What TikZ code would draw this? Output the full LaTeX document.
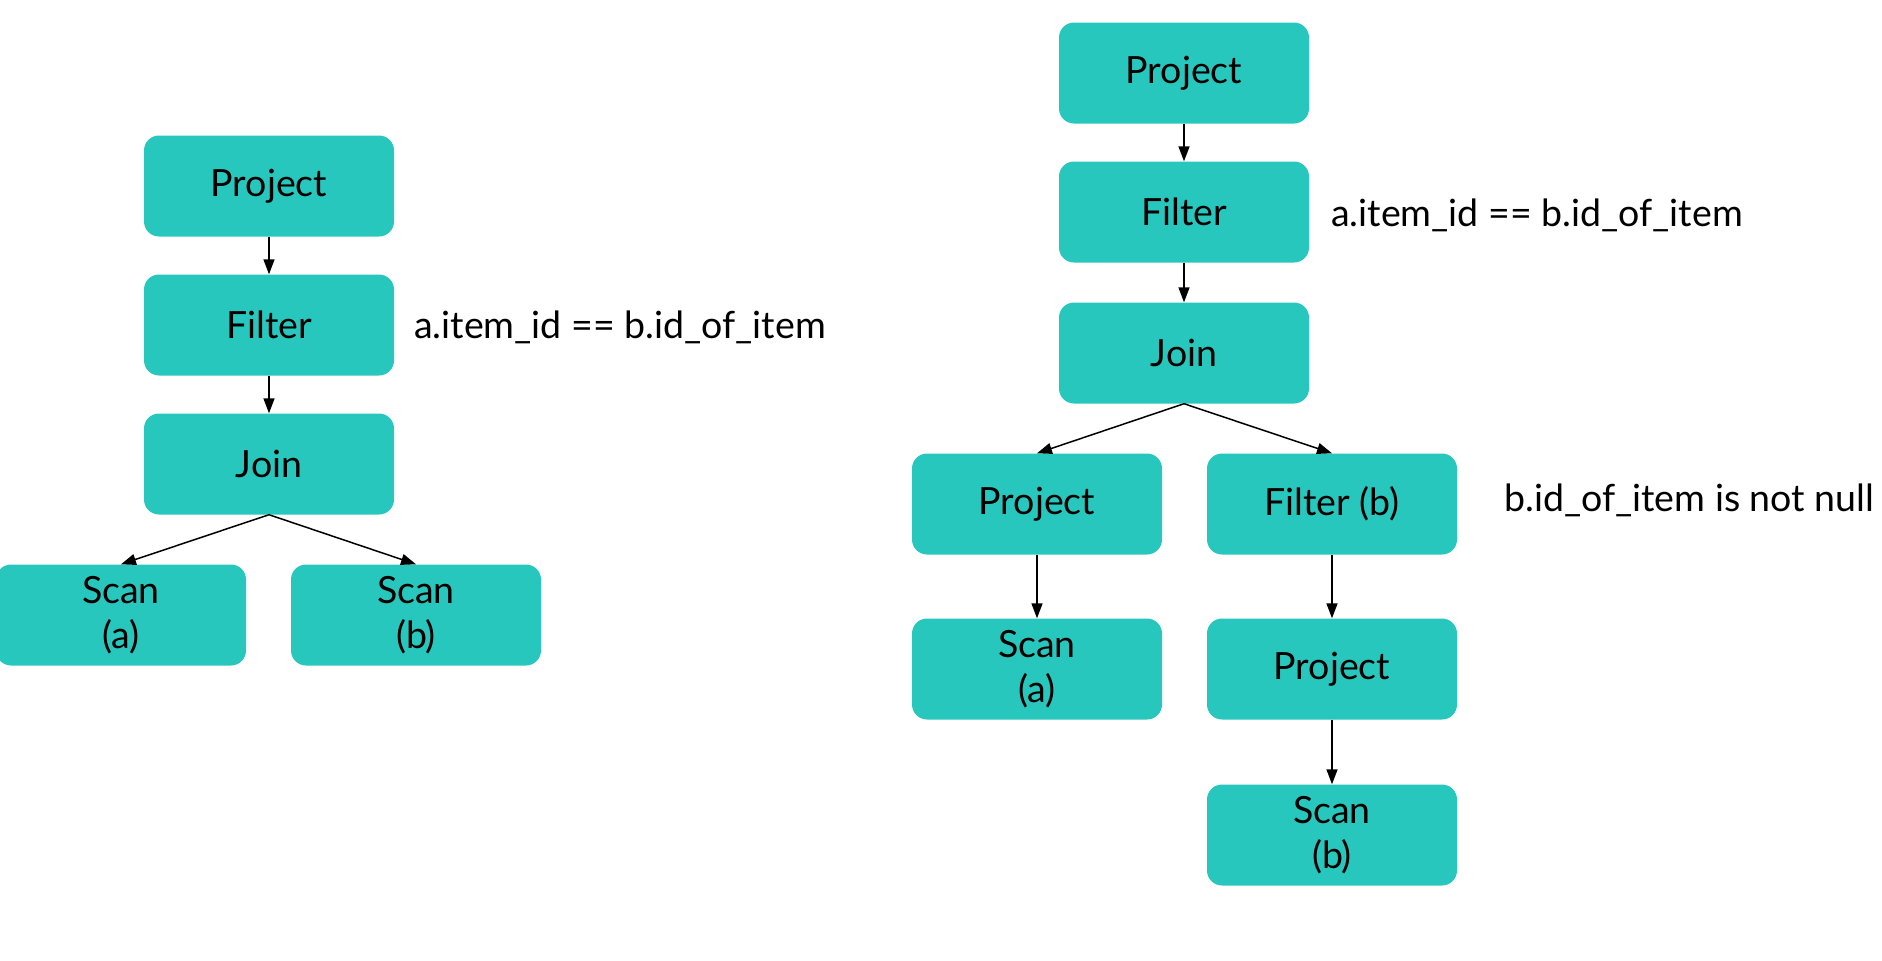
\documentclass[tikz,border=0pt]{standalone}
\usepackage{fontspec}
\setmainfont{Lato}
\usetikzlibrary{arrows.meta}
\definecolor{opteal}{RGB}{40,199,190}

\begin{document}
\begin{tikzpicture}[x=1pt,y=-1pt,
  op/.style={fill=opteal,rounded corners=15pt,minimum width=250pt,minimum height=101pt,
    align=center,font=\fontsize{37.5}{44.5}\selectfont,inner sep=0pt},
  cond/.style={anchor=west,font=\fontsize{37.5}{44}\selectfont,inner sep=0pt},
  edge/.style={line width=1.5pt,-{Triangle[length=15pt,width=11pt]}}]
\useasboundingbox (0,0) rectangle (1882,961);

% left plan
\node[op] (lproj) at (269,186) {Project};
\node[op] (lfilt) at (269,325) {Filter};
\node[op] (ljoin) at (269,464) {Join};
\node[op] (lscana) at (121,615) {Scan\\(a)};
\node[op] (lscanb) at (416,615) {Scan\\(b)};
\node[cond] (lcond) at (414,327) {a.item\_id == b.id\_of\_item};

\draw[edge] (lproj) -- (lfilt);
\draw[edge] (lfilt) -- (ljoin);
\draw[edge] (ljoin.south) -- (lscana.north);
\draw[edge] (ljoin.south) -- (lscanb.north);

% right plan (pushed down)
\node[op] (rproj) at (1184,73) {Project};
\node[op] (rfilt) at (1184,212) {Filter};
\node[op] (rjoin) at (1184,353) {Join};
\node[op] (rprja) at (1037,504) {Project};
\node[op] (rfiltb) at (1332,504) {Filter (b)};
\node[op] (rscana) at (1037,669) {Scan\\(a)};
\node[op] (rprjb) at (1332,669) {Project};
\node[op] (rscanb) at (1332,835) {Scan\\(b)};
\node[cond] (rcond) at (1331,215) {a.item\_id == b.id\_of\_item};
\node[cond] (rcondb) at (1504,500) {b.id\_of\_item is not null};

\draw[edge] (rproj) -- (rfilt);
\draw[edge] (rfilt) -- (rjoin);
\draw[edge] (rjoin.south) -- (rprja.north);
\draw[edge] (rjoin.south) -- (rfiltb.north);
\draw[edge] (rprja) -- (rscana);
\draw[edge] (rfiltb) -- (rprjb);
\draw[edge] (rprjb) -- (rscanb);

\end{tikzpicture}
\end{document}
